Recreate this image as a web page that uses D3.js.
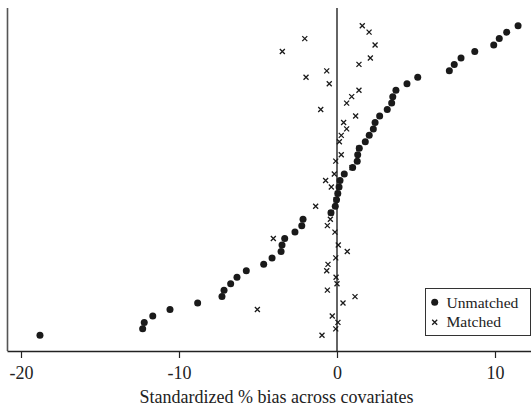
<!DOCTYPE html>
<html><head><meta charset="utf-8">
<script src="https://cdn.jsdelivr.net/npm/d3@7"></script>
<style>
html,body{margin:0;padding:0;background:#fff;}
svg{display:block;}
</style></head>
<body>
<script>
// Standardized % bias per covariate (rows top to bottom)
const unmatched = [11.46,10.74,10.27,9.92,8.72,7.85,7.42,7.11,5.11,4.43,3.73,3.53,3.46,3.18,2.70,2.41,2.30,2.04,1.79,1.41,1.31,1.28,0.99,0.46,0.19,0.13,0.05,-0.03,-0.11,-0.38,-2.15,-2.23,-2.66,-3.31,-3.48,-3.54,-4.11,-4.64,-5.74,-6.33,-6.73,-7.15,-7.28,-8.82,-10.57,-11.66,-12.20,-12.30,-18.80];
const matched = [1.60,2.03,-2.04,2.41,-3.46,2.11,1.39,-0.65,-1.96,-0.49,1.39,0.93,0.61,-1.03,1.18,0.42,0.61,0.27,0.15,1.39,0.27,-0.08,0.95,-0.17,-0.72,-0.36,0.03,-0.06,-1.35,-0.38,-0.42,-0.61,-0.13,-4.03,0.08,0.65,-0.08,-0.57,-0.65,-0.06,0.00,-0.61,1.14,0.38,-5.04,-0.30,0.06,-0.08,-0.95];
const categories = unmatched.map((d,i)=>"covariate " + (i+1));
const xTicks = [-20,-10,0,10];
const seriesNames = ["Unmatched","Matched"];
const xTitle = "Standardized % bias across covariates";

const W = 531, H = 406;
const svg = d3.select("body").append("svg").attr("width",W).attr("height",H);
const serif = "'Liberation Serif','Times New Roman',serif";

const xBase = d3.scaleLinear().domain([-20,10]).range([21,495]);
const x = d3.scaleLinear().domain([xBase.invert(7), xBase.invert(531)]).range([7,531]);
const y = d3.scalePoint().domain(categories).range([25.7,335.3]);

const plotTop = 8, plotBottom = 351;

// left axis line
svg.append("line").attr("x1",7.5).attr("x2",7.5).attr("y1",plotTop).attr("y2",plotBottom)
  .attr("stroke","#555").attr("stroke-width",1.6);

// zero reference line
svg.append("line").attr("x1",x(0)).attr("x2",x(0)).attr("y1",plotTop).attr("y2",plotBottom)
  .attr("stroke","#111").attr("stroke-width",1.3);

// bottom axis
const ax = svg.append("g").attr("transform",`translate(0,${plotBottom})`)
  .call(d3.axisBottom(x).tickValues(xTicks).tickSizeOuter(0).tickSizeInner(7).tickPadding(8)
    .tickFormat(d=>d<0?"-"+Math.abs(d):d));
ax.select(".domain").attr("stroke","#222").attr("stroke-width",1.3);
ax.selectAll(".tick line").attr("stroke","#222").attr("stroke-width",1.2);
ax.selectAll(".tick text").attr("font-family",serif).attr("font-size",18).attr("fill","#222");

svg.append("text").attr("x",276.5).attr("y",403).attr("text-anchor","middle")
  .attr("font-family",serif).attr("font-size",18).attr("fill","#222").text(xTitle);

// matched crosses
const cs = 2.5;
const crossPath = `M${-cs},${-cs}L${cs},${cs}M${-cs},${cs}L${cs},${-cs}`;
svg.append("g").selectAll("path").data(matched).join("path")
  .attr("transform",(d,i)=>`translate(${x(d)},${y(categories[i])})`)
  .attr("d",crossPath).attr("stroke","#1a1a1a").attr("stroke-width",1.3).attr("fill","none");

// unmatched dots
svg.append("g").selectAll("circle").data(unmatched).join("circle")
  .attr("cx",d=>x(d)).attr("cy",(d,i)=>y(categories[i])).attr("r",3.5).attr("fill","#1a1a1a");

// legend
const lg = svg.append("g");
lg.append("rect").attr("x",425.5).attr("y",288.5).attr("width",105).attr("height",47)
  .attr("fill","#fff").attr("stroke","#333").attr("stroke-width",1);
lg.append("circle").attr("cx",434.7).attr("cy",302.3).attr("r",3.5).attr("fill","#1a1a1a");
lg.append("path").attr("transform","translate(434.7,322.3)").attr("d",crossPath)
  .attr("stroke","#1a1a1a").attr("stroke-width",1.3).attr("fill","none");
lg.append("text").attr("x",446.5).attr("y",308.3).attr("font-family",serif).attr("font-size",15.6)
  .attr("fill","#222").text(seriesNames[0]);
lg.append("text").attr("x",446.5).attr("y",327).attr("font-family",serif).attr("font-size",15.6)
  .attr("fill","#222").text(seriesNames[1]);
</script>
</body></html>
